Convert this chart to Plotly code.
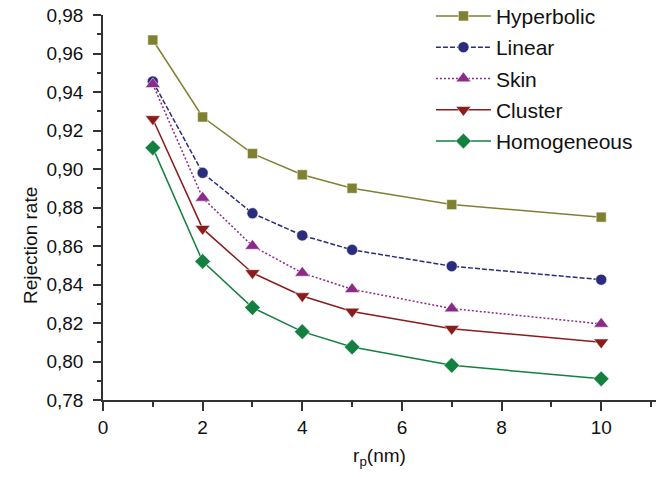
import plotly.graph_objects as go

x_vals = [1, 2, 3, 4, 5, 7, 10]
hyperbolic = [0.967, 0.927, 0.908, 0.897, 0.890, 0.8815, 0.875]
linear = [0.9455, 0.898, 0.877, 0.8655, 0.858, 0.8495, 0.8425]
skin = [0.944, 0.885, 0.860, 0.846, 0.8375, 0.8275, 0.8195]
cluster = [0.926, 0.869, 0.846, 0.834, 0.826, 0.817, 0.810]
homogeneous = [0.911, 0.852, 0.828, 0.8155, 0.8075, 0.798, 0.791]

series = [
    ("Hyperbolic", hyperbolic, "#808033", "solid", "square", 10),
    ("Linear", linear, "#2a2d7c", "5px,2px", "circle", 11),
    ("Skin", skin, "#8a2a8a", "2px,2px", "triangle-up", 13),
    ("Cluster", cluster, "#8a1c1c", "solid", "triangle-down", 13),
    ("Homogeneous", homogeneous, "#138040", "solid", "diamond", 12),
]

fig = go.Figure()
for i, (name, vals, color, dash, sym, msize) in enumerate(series):
    fig.add_trace(go.Scatter(
        x=x_vals, y=vals, name=name, mode="lines+markers",
        legendgroup=f"g{i}",
        line=dict(color=color, width=1.5, dash=dash),
        marker=dict(symbol=sym, size=msize, color=color,
                    line=dict(width=0.5, color="white")),
    ))

axis_common = dict(
    showline=True, linecolor="#333333", linewidth=1.5,
    ticks="outside", tickcolor="#333333", tickwidth=1.5,
    showgrid=False, zeroline=False,
    tickfont=dict(size=19, color="#111111"),
)

fig.update_layout(
    width=656, height=477,
    margin=dict(l=103, r=0, t=15, b=77, autoexpand=False),
    paper_bgcolor="white", plot_bgcolor="white",
    font=dict(family="Liberation Sans, Arial, sans-serif", color="#111111"),
    separators=",.",
    showlegend=True,
    legend=dict(
        x=0.593, y=1.05, xanchor="left", yanchor="top",
        font=dict(size=21), bgcolor="rgba(0,0,0,0)",
        itemwidth=55, tracegroupgap=1,
    ),
    xaxis=dict(
        range=[0, 11.1], tickmode="array", tickvals=[0, 2, 4, 6, 8, 10],
        ticktext=["0", "2", "4", "6", "8", "10"], ticklen=9,
        ticklabelstandoff=0,
        minor=dict(tickvals=[1, 3, 5, 7, 9, 11], ticklen=5, tickcolor="#333333", tickwidth=1.5, ticks="outside"),
        title=dict(text="r<sub>p</sub>(nm)", font=dict(size=19), standoff=12),
        **axis_common,
    ),
    yaxis=dict(
        range=[0.78, 0.98], dtick=0.02, tickformat=".2f", ticklen=8,
        ticklabelstandoff=6,
        minor=dict(dtick=0.01, ticklen=4, tickcolor="#333333", tickwidth=1.5, ticks="outside"),
        **axis_common,
    ),
    annotations=[dict(
        text="Rejection rate", textangle=-90, showarrow=False,
        xref="paper", yref="paper", x=-0.132, y=0.40,
        xanchor="center", yanchor="middle", font=dict(size=19),
    )],
)

fig.write_html("out.html")
